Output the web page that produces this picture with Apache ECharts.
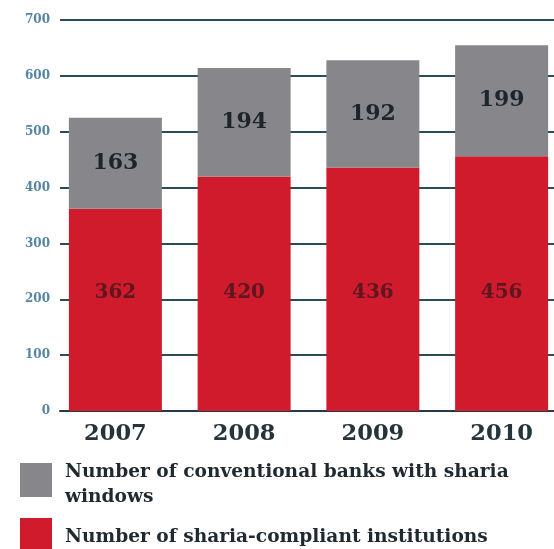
<!DOCTYPE html>
<html>
<head>
<meta charset="utf-8">
<script src="https://cdn.jsdelivr.net/npm/echarts@6/dist/echarts.min.js"></script>
<style>
  html, body { margin: 0; padding: 0; background: #ffffff; }
  #chart { width: 554px; height: 549px; }
</style>
</head>
<body>
<div id="chart"></div>
<script>
// Islamic finance institutions by year
const years = ['2007', '2008', '2009', '2010'];
const shariaCompliant = [362, 420, 436, 456];
const conventionalWindows = [163, 194, 192, 199];
const yTicks = { min: 0, max: 700, interval: 100 };

const SERIF = "'DejaVu Serif', 'Liberation Serif', serif";
const RED = '#cf1b2b';
const GREY = '#87878b';

const legendText = {
  fontFamily: SERIF,
  fontWeight: 'bold',
  fontSize: 18.6,
  color: '#1f2a30'
};

const chart = echarts.init(document.getElementById('chart'), null, { renderer: 'canvas' });

chart.setOption({
  backgroundColor: '#ffffff',
  animation: false,
  grid: [
    // value scale with its rules
    { left: 60, right: 0, top: 20, bottom: 138, outerBoundsMode: 'none' },
    // bars and year labels; the last band runs past the right edge
    { left: 51, right: -12, top: 20, bottom: 138, outerBoundsMode: 'none' }
  ],
  xAxis: [
    {
      gridIndex: 0,
      type: 'category',
      data: years,
      axisLine: { show: true, lineStyle: { color: '#263a46', width: 2 } },
      axisTick: { show: false },
      axisLabel: { show: false }
    },
    {
      gridIndex: 1,
      type: 'category',
      data: years,
      axisLine: { show: false },
      axisTick: { show: false },
      axisLabel: {
        margin: 12,
        fontFamily: SERIF,
        fontWeight: 'bold',
        fontSize: 22.5,
        color: '#25333b'
      }
    }
  ],
  yAxis: [
    {
      gridIndex: 0,
      type: 'value',
      min: yTicks.min,
      max: yTicks.max,
      interval: yTicks.interval,
      axisLine: { show: false },
      axisTick: { show: false },
      axisLabel: {
        margin: 10,
        fontFamily: SERIF,
        fontSize: 12,
        fontWeight: 'bold',
        color: '#5585a0'
      },
      splitLine: { show: true, lineStyle: { color: '#2b4a5a', width: 2 } }
    },
    {
      gridIndex: 1,
      type: 'value',
      min: yTicks.min,
      max: yTicks.max,
      interval: yTicks.interval,
      show: false,
      splitLine: { show: false }
    }
  ],
  legend: [
    {
      left: 15,
      top: 449,
      orient: 'vertical',
      itemWidth: 32,
      itemHeight: 34,
      itemGap: 0,
      icon: 'rect',
      data: ['Number of conventional banks with sharia windows'],
      // a thin leading line drops the label slightly below the swatch centre
      formatter: () => '{s| }\n{t|Number of conventional banks with sharia}\n{t|windows}',
      textStyle: {
        ...legendText,
        padding: [0, 0, 0, 8],
        rich: {
          s: { ...legendText, lineHeight: 10, fontSize: 2 },
          t: { ...legendText, lineHeight: 25 }
        }
      }
    },
    {
      left: 15,
      top: 513,
      orient: 'vertical',
      itemWidth: 32,
      itemHeight: 34,
      icon: 'rect',
      data: ['Number of sharia-compliant institutions'],
      formatter: (name) => '{s| }\n{t|' + name + '}',
      textStyle: {
        ...legendText,
        padding: [0, 0, 0, 8],
        rich: {
          s: { ...legendText, lineHeight: 5, fontSize: 2 },
          t: { ...legendText, lineHeight: 25 }
        }
      }
    }
  ],
  series: [
    {
      name: 'Number of sharia-compliant institutions',
      type: 'bar',
      xAxisIndex: 1,
      yAxisIndex: 1,
      stack: 'total',
      barWidth: 93,
      data: shariaCompliant,
      itemStyle: { color: RED },
      label: {
        show: true,
        position: 'insideBottom',
        distance: 108,
        fontFamily: SERIF,
        fontWeight: 'bold',
        fontSize: 20,
        color: '#5e1620'
      }
    },
    {
      name: 'Number of conventional banks with sharia windows',
      type: 'bar',
      xAxisIndex: 1,
      yAxisIndex: 1,
      stack: 'total',
      barWidth: 93,
      data: conventionalWindows,
      itemStyle: { color: GREY },
      label: {
        show: true,
        position: 'inside',
        fontFamily: SERIF,
        fontWeight: 'bold',
        fontSize: 22,
        color: '#1b252b'
      }
    }
  ]
});
</script>
</body>
</html>
